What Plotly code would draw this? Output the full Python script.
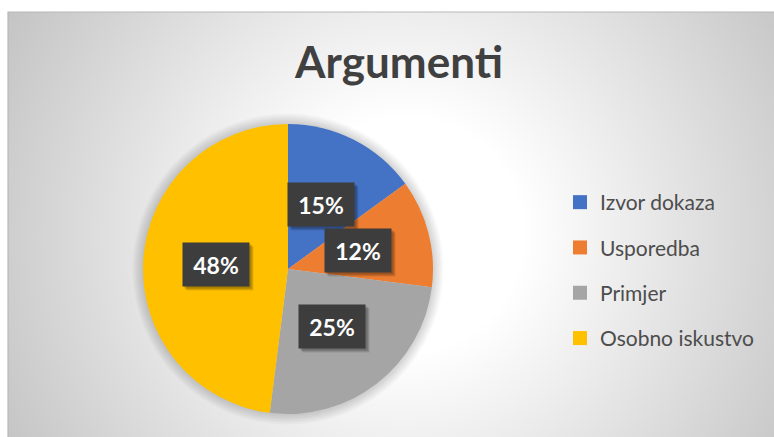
import math
import plotly.graph_objects as go

# ---- data ----
categories = ["Izvor dokaza", "Usporedba", "Primjer", "Osobno iskustvo"]
values = [15, 12, 25, 48]
colors = ["#4472C4", "#ED7D31", "#A5A5A5", "#FFC000"]
title_text = "Argumenti"

# ---- layout geometry (pixels) ----
W, H = 774, 437
cx, cy, R = 288, 269, 145


def fx(x):
    return x / W


def fy(y):
    return 1 - y / H


fig = go.Figure()

fig.add_trace(go.Pie(
    labels=categories, values=values,
    marker=dict(colors=colors, line=dict(width=0)),
    sort=False, direction="clockwise", rotation=0,
    textinfo="none", hoverinfo="label+percent",
    showlegend=False,
    domain=dict(x=[fx(cx - R), fx(cx + R)], y=[fy(cy + R), fy(cy - R)]),
))

# legend entries
for cat, col in zip(categories, colors):
    fig.add_trace(go.Scatter(
        x=[None], y=[None], mode="markers",
        marker=dict(symbol="square", size=14, color=col),
        name=cat, legendgroup=cat, showlegend=True, hoverinfo="skip",
    ))

# ---- background: radial gradient via concentric circles ----
shapes = []
gx, gy = 405, 235
for g in range(195, 256):
    r = 120 + (255 - g) / 0.175
    col = f"rgb({g},{g},{g})"
    shapes.append(dict(type="circle", xref="paper", yref="paper",
                       x0=fx(gx - r), x1=fx(gx + r), y0=fy(gy + r), y1=fy(gy - r),
                       fillcolor=col, line=dict(width=0), layer="below"))
# white margins outside chart area
shapes.append(dict(type="rect", xref="paper", yref="paper", x0=-0.1, x1=1.1, y0=fy(12), y1=1.1,
                   fillcolor="white", line=dict(width=0), layer="below"))
shapes.append(dict(type="rect", xref="paper", yref="paper", x0=-0.1, x1=fx(8), y0=-0.1, y1=1.1,
                   fillcolor="white", line=dict(width=0), layer="below"))
# chart area border
shapes.append(dict(type="rect", xref="paper", yref="paper", x0=fx(8), x1=fx(776), y0=fy(440), y1=fy(12),
                   fillcolor="rgba(0,0,0,0)", line=dict(width=1.2, color="#b8b8b8"), layer="below"))
# soft shadow around pie
for k in range(1, 8):
    rr = R + k * 1.5
    shapes.append(dict(type="circle", xref="paper", yref="paper",
                       x0=fx(cx - rr), x1=fx(cx + rr), y0=fy(cy + rr), y1=fy(cy - rr),
                       fillcolor="rgba(0,0,0,0.022)", line=dict(width=0), layer="below"))

# ---- data labels ----
annotations = []
total = sum(values)
cum = 0
for v in values:
    mid = (cum + v / 2) / total * 2 * math.pi
    cum += v
    lx = cx + 0.5 * R * math.sin(mid)
    ly = cy - 0.5 * R * math.cos(mid)
    txt = f"<b>{round(v / total * 100)}%</b>"
    common = dict(x=fx(lx), y=fy(ly), xref="paper", yref="paper", xanchor="center",
                  yanchor="middle", showarrow=False, width=64, height=41)
    for sh, a in ((4, 0.10), (3, 0.12), (2, 0.14)):
        annotations.append(dict(text=" ", bgcolor=f"rgba(0,0,0,{a})", xshift=sh, yshift=-sh, **common))
    annotations.append(dict(text=txt, bgcolor="#3d3d3d",
                            font=dict(family="Lato", size=23, color="white"), **common))

fig.update_layout(
    width=W, height=H, autosize=False,
    margin=dict(l=0, r=0, t=0, b=0),
    paper_bgcolor="white", plot_bgcolor="rgba(0,0,0,0)",
    title=dict(text=f"<b>{title_text}</b>", x=fx(399), xanchor="center", y=fy(63), yanchor="middle",
               font=dict(family="Lato", size=44, color="#404040")),
    xaxis=dict(visible=False), yaxis=dict(visible=False),
    legend=dict(x=fx(560), xanchor="left", y=fy(182), yanchor="top",
                tracegroupgap=15, bgcolor="rgba(0,0,0,0)",
                font=dict(family="Lato", size=21, color="#4d4d4d"), itemwidth=30),
    shapes=shapes, annotations=annotations,
)

fig.write_html("out.html")
